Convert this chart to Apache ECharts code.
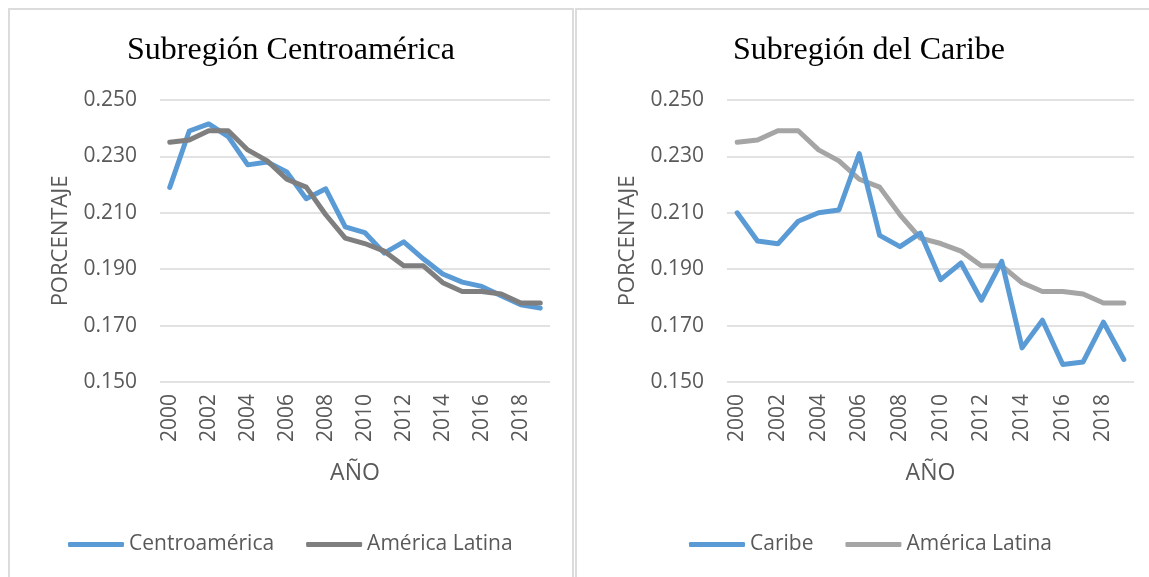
<!DOCTYPE html>
<html>
<head>
<meta charset="utf-8">
<script src="https://cdn.jsdelivr.net/npm/echarts@6/dist/echarts.min.js"></script>
<style>
  html, body { margin: 0; padding: 0; background: #fff; }
  #page { position: relative; width: 1149px; height: 577px; overflow: hidden; }
  .panel { position: absolute; border: 2px solid #dcdcdc; box-sizing: border-box; }
  .chart { position: absolute; top: 0; height: 577px; }
</style>
</head>
<body>
<div id="page">
  <div class="panel" style="left: 8px; top: 8px; width: 566px; height: 600px;"></div>
  <div class="panel" style="left: 575px; top: 8px; width: 600px; height: 600px;"></div>
  <div id="centro" class="chart" style="left: 0; width: 575px;"></div>
  <div id="caribe" class="chart" style="left: 575px; width: 574px;"></div>
</div>
<script>
const years = ['2000', '2001', '2002', '2003', '2004', '2005', '2006', '2007', '2008', '2009',
  '2010', '2011', '2012', '2013', '2014', '2015', '2016', '2017', '2018', '2019']

const centroamerica = [0.219, 0.239, 0.2415, 0.237, 0.227, 0.228, 0.2245, 0.215, 0.2185, 0.205,
  0.203, 0.1957, 0.1997, 0.1937, 0.1883, 0.1854, 0.1839, 0.1806, 0.1774, 0.1762]

const caribe = [0.210, 0.200, 0.199, 0.207, 0.210, 0.211, 0.231, 0.202, 0.198, 0.2028,
  0.1863, 0.1922, 0.179, 0.1928, 0.1621, 0.1719, 0.1562, 0.1571, 0.1712, 0.158]

const americaLatina = [0.235, 0.2358, 0.2391, 0.2391, 0.2323, 0.2284, 0.2219, 0.2191, 0.2093, 0.201,
  0.1991, 0.1964, 0.1912, 0.1912, 0.1852, 0.1821, 0.1821, 0.1812, 0.178, 0.178]

const textColor = '#595959'
const sansFont = '"Open Sans", "Noto Sans", sans-serif'

const buildOption = (cfg) => {
  return {
    animation: false,
    graphic: [
      {
        type: 'text',
        x: cfg.titleX,
        y: 51,
        style: {
          text: cfg.title,
          textAlign: 'center',
          textVerticalAlign: 'middle',
          font: '32px "Liberation Serif", "Times New Roman", serif',
          fill: '#000'
        }
      }
    ],
    legend: {
      left: cfg.legendLeft,
      top: 529,
      itemWidth: 56,
      itemHeight: 5,
      itemGap: 32,
      icon: 'roundRect',
      textStyle: {
        color: textColor,
        fontSize: 21,
        fontFamily: sansFont
      },
      data: [cfg.mainName, 'América Latina']
    },
    grid: {
      left: cfg.gridLeft,
      top: 100,
      width: cfg.gridWidth,
      height: 282,
      containLabel: false
    },
    xAxis: {
      type: 'category',
      data: years,
      boundaryGap: true,
      name: 'AÑO',
      nameLocation: 'middle',
      nameGap: 80,
      nameTextStyle: {
        color: textColor,
        fontSize: 23,
        fontFamily: sansFont
      },
      axisLine: { show: false },
      axisTick: { show: false },
      axisLabel: {
        interval: 1,
        rotate: 90,
        margin: 12,
        color: textColor,
        fontSize: 21,
        fontFamily: sansFont
      }
    },
    yAxis: {
      type: 'value',
      min: 0.15,
      max: 0.25,
      interval: 0.02,
      name: 'PORCENTAJE',
      nameLocation: 'middle',
      nameGap: 88,
      nameTextStyle: {
        color: textColor,
        fontSize: 22,
        fontFamily: sansFont
      },
      axisLine: { show: false },
      axisTick: { show: false },
      axisLabel: {
        margin: 23,
        color: textColor,
        fontSize: 21,
        fontFamily: sansFont,
        formatter: (v) => v.toFixed(3)
      },
      splitLine: {
        lineStyle: { color: '#d9d9d9', width: 1.5 }
      }
    },
    series: [
      {
        name: cfg.mainName,
        type: 'line',
        data: cfg.mainData,
        symbol: 'none',
        color: '#5b9bd5',
        lineStyle: { width: 5, color: '#5b9bd5', cap: 'round', join: 'round' },
        z: cfg.mainZ
      },
      {
        name: 'América Latina',
        type: 'line',
        data: americaLatina,
        symbol: 'none',
        color: cfg.latinColor,
        lineStyle: { width: 5, color: cfg.latinColor, cap: 'round', join: 'round' },
        z: 3
      }
    ]
  }
}

const centroChart = echarts.init(document.getElementById('centro'))
centroChart.setOption(buildOption({
  title: 'Subregión Centroamérica',
  titleX: 291,
  legendLeft: 63,
  gridLeft: 160,
  gridWidth: 390,
  mainName: 'Centroamérica',
  mainData: centroamerica,
  mainZ: 2,
  latinColor: '#7f7f7f'
}))

const caribeChart = echarts.init(document.getElementById('caribe'))
caribeChart.setOption(buildOption({
  title: 'Subregión del Caribe',
  titleX: 869 - 575,
  legendLeft: 684 - 575,
  gridLeft: 727 - 575,
  gridWidth: 407,
  mainName: 'Caribe',
  mainData: caribe,
  mainZ: 4,
  latinColor: '#a5a5a5'
}))
</script>
</body>
</html>
